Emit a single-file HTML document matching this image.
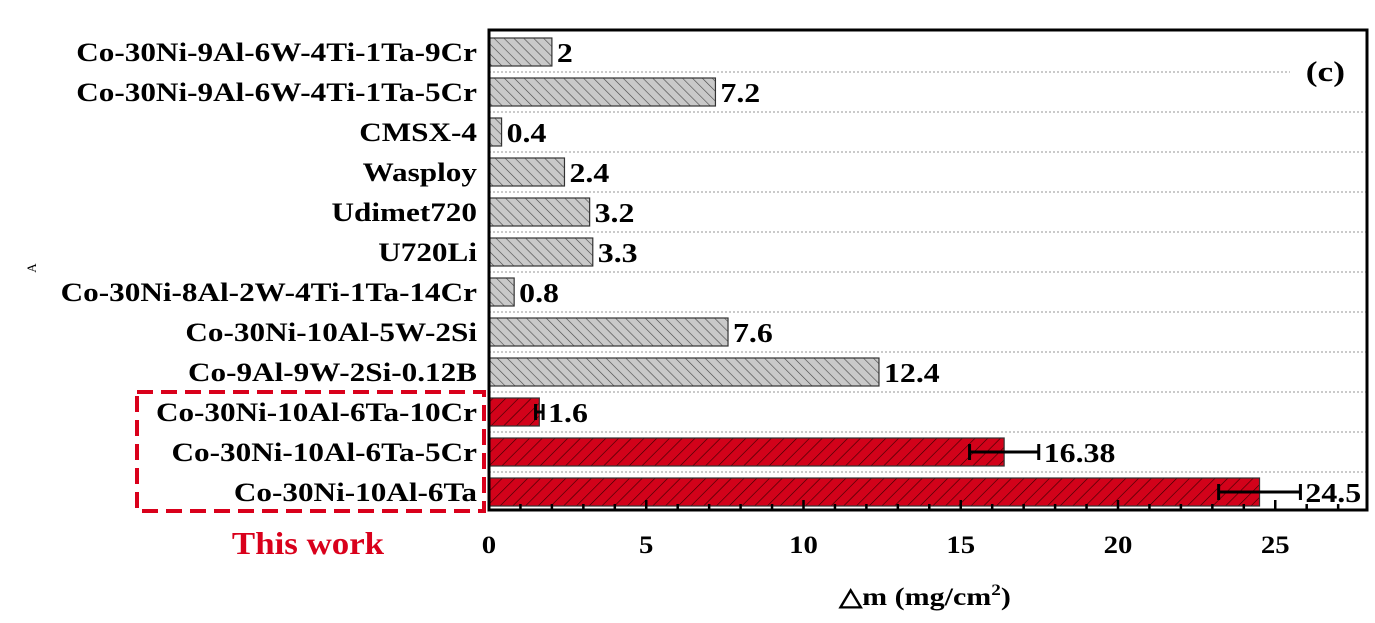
<!DOCTYPE html>
<html><head><meta charset="utf-8"><style>
body{margin:0;background:#fff;}
svg{display:block;font-family:"Liberation Serif",serif;font-weight:bold;}
</style></head><body>
<svg id="chart" width="1375" height="623">
<defs>
<pattern id="hg" width="7" height="7" patternUnits="userSpaceOnUse" patternTransform="rotate(-45)">
<rect width="7" height="7" fill="#c9c9c9"/><line x1="0" y1="0" x2="0" y2="7" stroke="#444" stroke-width="1.2"/></pattern>
<pattern id="hr" width="9" height="9" patternUnits="userSpaceOnUse" patternTransform="rotate(45)">
<rect width="9" height="9" fill="#d2021a"/><line x1="0" y1="0" x2="0" y2="9" stroke="#300" stroke-width="1.2"/></pattern>
</defs>
<g id="grid"></g><g id="bars"></g><g id="axes"></g>
<rect x="137" y="392" width="347" height="119" fill="none" stroke="#d9001b" stroke-width="4" stroke-dasharray="16,8"/>
<text x="308" y="554" text-anchor="middle" font-size="32" fill="#d9001b" transform="matrix(1.09,0,0,1,-27.7,0)">This work</text>
<text x="925" y="605" text-anchor="middle" font-size="25" transform="matrix(1.2,0,0,1,-185,0)">△m (mg/cm<tspan dy="-10" font-size="16">2</tspan><tspan dy="10">)</tspan></text>
<text x="36" y="268" text-anchor="middle" font-size="13" font-weight="normal" transform="rotate(-90 36 268)">A</text>
<text x="1345" y="81" text-anchor="end" font-size="29" transform="matrix(1.22,0,0,1,-295.9,0)">(c)</text>
</svg>
<script>
const categories=["Co-30Ni-9Al-6W-4Ti-1Ta-9Cr","Co-30Ni-9Al-6W-4Ti-1Ta-5Cr","CMSX-4","Wasploy","Udimet720","U720Li","Co-30Ni-8Al-2W-4Ti-1Ta-14Cr","Co-30Ni-10Al-5W-2Si","Co-9Al-9W-2Si-0.12B","Co-30Ni-10Al-6Ta-10Cr","Co-30Ni-10Al-6Ta-5Cr","Co-30Ni-10Al-6Ta"];
const values=[2,7.2,0.4,2.4,3.2,3.3,0.8,7.6,12.4,1.6,16.38,24.5];
const labels=["2","7.2","0.4","2.4","3.2","3.3","0.8","7.6","12.4","1.6","16.38","24.5"];
const errors=[0,0,0,0,0,0,0,0,0,0.12,1.1,1.3];
const thisWork=[false,false,false,false,false,false,false,false,false,true,true,true];
const xTicks=[0,5,10,15,20,25];
const NS="http://www.w3.org/2000/svg";
const L=489,R=1367,T=30,B=510,PX=31.45;
const x=v=>L+v*PX;
const rowH=(B-T)/categories.length;
const yc=i=>T+rowH*i+rowH/2+2;
function mk(tag,a,p){const e=document.createElementNS(NS,tag);for(const k in a)e.setAttribute(k,a[k]);p.appendChild(e);return e;}
function stretch(e,ax,s){e.setAttribute('transform',`matrix(${s},0,0,1,${(1-s)*ax},0)`);}
const grid=document.getElementById('grid'),bars=document.getElementById('bars'),axes=document.getElementById('axes');
for(let i=1;i<categories.length;i++){
 const gy=T+rowH*i+2;
 const g=mk('line',{x1:L,x2:i==1?1290:R,y1:gy,y2:gy,stroke:'#aaa','stroke-width':1.2,'stroke-dasharray':'2,2'},grid);
 
 
}
categories.forEach((c,i)=>{
 const cy=yc(i);
 const r=mk('rect',{x:L,y:cy-14,width:x(values[i])-L,height:28,fill:thisWork[i]?'url(#hr)':'url(#hg)',stroke:'#333','stroke-width':1.2},bars);
 
 
 let endX=x(values[i]);
 if(errors[i]>0){
  const x1=x(values[i]-errors[i]),x2=x(values[i]+errors[i]);
  const e=mk('path',{d:`M${x1},${cy}H${x2}M${x1},${cy-8}V${cy+8}M${x2},${cy-8}V${cy+8}`,stroke:'#000','stroke-width':3,fill:'none'},bars);
  
  
  endX=x2;
 }
 const vx=endX+5;
 const v=mk('text',{x:vx,y:cy+10,'font-size':27},bars);v.textContent=labels[i];
 stretch(v,vx,1.18);
 
 
 const t=mk('text',{x:477,y:cy+9,'text-anchor':'end','font-size':26},axes);t.textContent=c;
 stretch(t,477,1.2);
 
 
});
const f=mk('rect',{x:L,y:T,width:R-L,height:B-T,fill:'none',stroke:'#000','stroke-width':3},axes);


for(let v=0;v<=27;v++){
 const major=v%5==0;
 const tk=mk('line',{x1:x(v),x2:x(v),y1:B,y2:B-(major?10:6),stroke:'#000','stroke-width':2.5},axes);
 
 
}
xTicks.forEach(v=>{
 const t=mk('text',{x:x(v),y:553,'text-anchor':'middle','font-size':25},axes);t.textContent=v;
 stretch(t,x(v),1.15);
 
 
});
</script>
</body></html>
